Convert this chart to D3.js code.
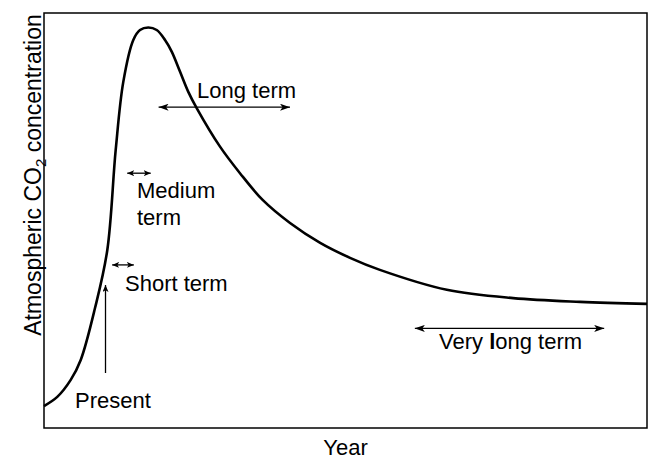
<!DOCTYPE html>
<html><head><meta charset="utf-8">
<script src="https://cdn.jsdelivr.net/npm/d3@7"></script>
<style>body{margin:0;background:#fff}text{font-family:"Liberation Sans",Arial,sans-serif;fill:#000}</style>
</head><body><svg id="c" width="652" height="459"></svg>
<script>
// Data (relative units: time 0-100, concentration 0-100)
const years = [0, 2.2, 4.43, 6.09, 8.46, 10.5, 11.89, 13.15, 14.81, 15.92, 17.3, 18.69, 20.07, 21.18, 22.55, 23.93, 25.32, 29.19, 32.5, 36.3, 40.8, 45.8, 50.75, 55.7, 66.8, 77.8, 88.9, 100];
const co2 = [5.3, 7.5, 11.6, 16.4, 28.9, 42.9, 67.0, 83.4, 93.5, 95.9, 96.5, 95.9, 93.5, 90.7, 85.9, 81.0, 77.1, 67.8, 61.4, 54.9, 49.4, 44.6, 41.0, 38.1, 33.3, 31.3, 30.4, 29.9];
// Annotation arrows: [from, to, level] in data units
const spanLabels = ["Long term", "Medium term", "Short term", "Very long term"];
const spanFrom = [19.0, 13.8, 11.3, 61.5];
const spanTo = [40.8, 17.7, 14.9, 92.9];
const spanAt = [77.3, 61.4, 39.3, 24.0];
const presentYear = 10.2;

const svg = d3.select("#c");
const m = {l:44, t:13, r:5, b:31};
const W = 652, H = 459;
const x = d3.scaleLinear().domain([0,100]).range([m.l, W - m.r]);
const y = d3.scaleLinear().domain([0,100]).range([H - m.b, m.t]);

const defs = svg.append("defs");
function marker(id, w, h){
  defs.append("marker").attr("id", id).attr("viewBox", `0 0 ${w} ${h}`)
    .attr("refX", w).attr("refY", h/2).attr("markerWidth", w).attr("markerHeight", h)
    .attr("markerUnits", "userSpaceOnUse").attr("orient", "auto-start-reverse")
    .append("path").attr("d", `M0,0L${w},${h/2}L0,${h}L${w*0.25},${h/2}Z`).attr("fill", "#000");
}
marker("big", 10, 7);
marker("small", 7, 6);

// box
svg.append("rect").attr("x", x(0)).attr("y", y(100)).attr("width", x(100)-x(0)).attr("height", y(0)-y(100))
  .attr("fill", "none").attr("stroke", "#000").attr("stroke-width", 1.5);

const data = years.map((d,i)=>[d, co2[i]]);
svg.append("path").datum(data)
  .attr("d", d3.line().x(d=>x(d[0])).y(d=>y(d[1])).curve(d3.curveCatmullRom.alpha(0.5)))
  .attr("fill", "none").attr("stroke", "#000").attr("stroke-width", 2.6);

// span arrows
spanLabels.forEach((lab, i) => {
  const big = (i === 0 || i === 3);
  svg.append("line").attr("x1", x(spanFrom[i])).attr("x2", x(spanTo[i]))
    .attr("y1", y(spanAt[i])).attr("y2", y(spanAt[i]))
    .attr("stroke", "#000").attr("stroke-width", 1.3)
    .attr("marker-start", `url(#${big?"big":"small"})`).attr("marker-end", `url(#${big?"big":"small"})`);
});
const fs = 22;
function label(tx, ty, str){
  return svg.append("text").attr("x", tx).attr("y", ty).attr("font-size", fs).text(str);
}
label(197, 98, spanLabels[0]);
label(137, 198, "Medium");
label(137, 225, "term");
label(125, 291, spanLabels[2]);
const vl = svg.append("text").attr("x", 439).attr("y", 349).attr("font-size", fs);
vl.append("tspan").text("Very ");
vl.append("tspan").attr("font-weight", "bold").text("l");
vl.append("tspan").text("ong term");

// present arrow
svg.append("line").attr("x1", x(presentYear)).attr("x2", x(presentYear))
  .attr("y1", 373).attr("y2", 285).attr("stroke", "#000").attr("stroke-width", 1.3)
  .attr("marker-end", "url(#small)");
label(75, 408, "Present");

// axis titles
svg.append("text").attr("x", (x(0)+x(100))/2).attr("y", 455).attr("text-anchor", "middle").attr("font-size", fs).text("Year");
const yl = svg.append("text").attr("transform", "translate(41,175) rotate(-90)").attr("text-anchor", "middle").attr("font-size", 23);
yl.append("tspan").text("Atmospheric CO");
yl.append("tspan").attr("font-size", 15).attr("dy", 5).text("2");
yl.append("tspan").attr("dy", -5).text(" concentration");
</script></body></html>
